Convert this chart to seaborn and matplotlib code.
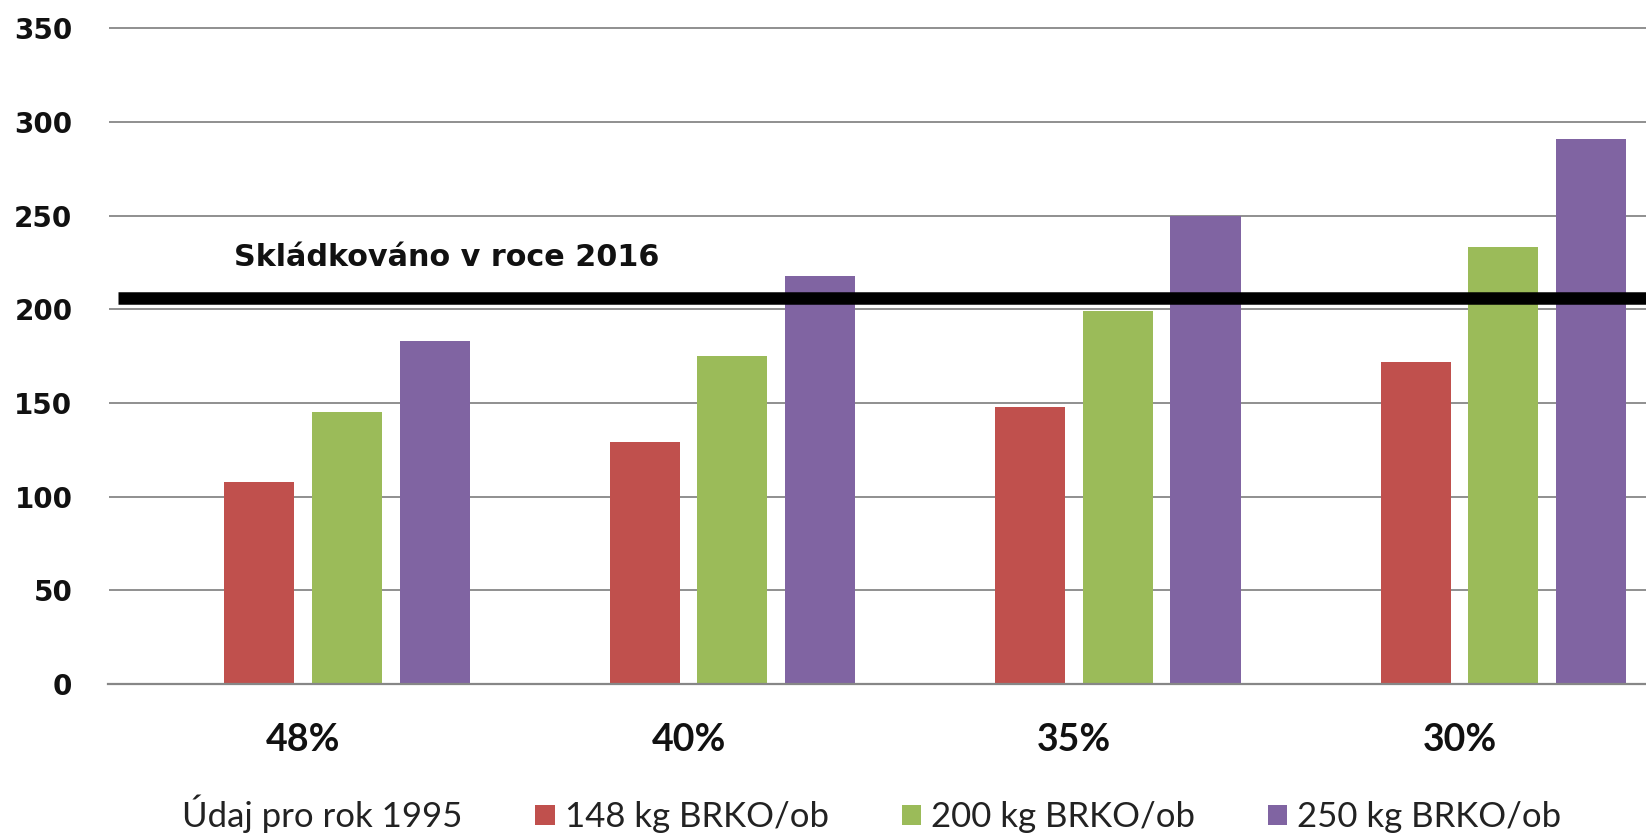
import matplotlib
matplotlib.use("Agg")
import matplotlib.pyplot as plt
from matplotlib.patches import Patch
import seaborn as sns
import pandas as pd

# ---- data ----
categories = ["48%", "40%", "35%", "30%"]
series = ["Údaj pro rok 1995", "148 kg BRKO/ob", "200 kg BRKO/ob", "250 kg BRKO/ob"]
vals_148 = [108, 129, 148, 172]
vals_200 = [145, 175, 199, 233]
vals_250 = [183, 218, 250, 291]
landfilled_2016 = 206
landfilled_label = "Skládkováno v roce 2016"
yticks = [0, 50, 100, 150, 200, 250, 300, 350]

sns.set_theme(style="white")
plt.rcParams['font.family'] = ['DejaVu Sans']

rows = []
for s, vals in [(series[1], vals_148), (series[2], vals_200), (series[3], vals_250)]:
    for c, v in zip(categories, vals):
        rows.append({"category": c, "series": s, "value": v})
df = pd.DataFrame(rows)

palette = {series[0]: "#FFFFFF", series[1]: "#C0504D",
           series[2]: "#9BBB59", series[3]: "#8064A2"}

W, H = 1646, 836
fig = plt.figure(figsize=(W / 100, H / 100), dpi=100)
ax = fig.add_axes([108.5 / W, (H - 684) / H, 1 - 108.5 / W, (684 - 24.55) / H])

sns.barplot(data=df, x="category", y="value", hue="series", hue_order=series,
            order=categories, palette=palette, width=0.91, gap=0.2,
            saturation=1, errorbar=None, linewidth=0, legend=False,
            zorder=2, ax=ax)

ax.set_xlim(-0.505, 3.484)
ax.set_ylim(0, 352)
ax.set_yticks(yticks)
ax.grid(axis='y', color='#878787', linewidth=1.3)
ax.grid(axis='x', visible=False)
ax.set_axisbelow(True)
for sp in ['left', 'right', 'top']:
    ax.spines[sp].set_visible(False)
ax.spines['bottom'].set_color('#878787')
ax.spines['bottom'].set_linewidth(1.6)
ax.set_xlabel('')
ax.set_ylabel('')

ax.tick_params(axis='y', length=0, pad=26, labelsize=20)
for lbl in ax.get_yticklabels():
    lbl.set_fontweight('bold')
    lbl.set_color('#111111')
ax.tick_params(axis='x', length=0, pad=28)
for lbl in ax.get_xticklabels():
    lbl.set_fontfamily('Lato')
    lbl.set_fontweight('bold')
    lbl.set_fontsize(27)
    lbl.set_color('#111111')

ax.plot([-0.481, 3.6], [landfilled_2016, landfilled_2016], color='black',
        lw=9, zorder=4, solid_capstyle='butt')
ax.text(-0.18, 223, landfilled_label, fontsize=21.8, fontweight='bold',
        va='baseline', ha='left', zorder=5, color='#111111')

handles = [Patch(facecolor=palette[s], edgecolor='none') for s in series]
fig.legend(handles, series, loc='center left',
           bbox_to_anchor=(153 / W, 1 - 814 / H), ncol=4, frameon=False,
           prop={'family': 'Lato', 'size': 25}, handlelength=0.55,
           handleheight=0.55, handletextpad=0.29, columnspacing=2.1,
           borderpad=0, borderaxespad=0, labelcolor='#222222')

fig.savefig('out.png', dpi=100)
